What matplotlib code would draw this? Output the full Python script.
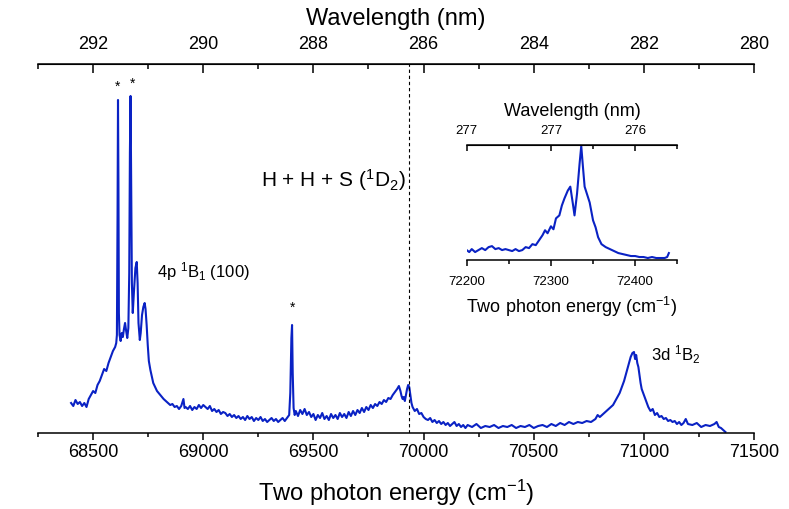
import numpy as np
import matplotlib
matplotlib.use("Agg")
import matplotlib.pyplot as plt
from matplotlib.ticker import MultipleLocator

plt.rcParams['font.family'] = ['Liberation Sans', 'DejaVu Sans']
plt.rcParams['mathtext.fontset'] = 'custom'
plt.rcParams['mathtext.rm'] = 'Liberation Sans'
plt.rcParams['mathtext.it'] = 'Liberation Sans:italic'

# main spectrum: two photon energy (cm-1) vs signal (arb. units)
energy = [68400, 68410, 68420, 68430, 68440, 68450, 68460, 68470, 68480, 68490,
          68500, 68510, 68520, 68530, 68540, 68550, 68560, 68570, 68580, 68590,
          68600, 68605, 68608, 68611, 68613, 68615, 68617, 68620, 68625, 68630,
          68635, 68640, 68645, 68650, 68655, 68660, 68664, 68667, 68670, 68673,
          68676, 68680, 68685, 68692, 68698, 68702, 68706, 68712, 68716, 68722,
          68728, 68734, 68738, 68743, 68748, 68753, 68760, 68773, 68790, 68805,
          68820, 68830, 68840, 68850, 68860, 68870, 68880, 68890, 68900, 68910,
          68915, 68920, 68930, 68940, 68950, 68960, 68970, 68980, 68990, 69000,
          69010, 69020, 69030, 69040, 69050, 69060, 69070, 69080, 69090, 69100,
          69110, 69120, 69130, 69140, 69150, 69160, 69170, 69180, 69190, 69200,
          69210, 69220, 69230, 69240, 69250, 69260, 69270, 69280, 69290, 69300,
          69310, 69320, 69330, 69340, 69350, 69360, 69370, 69380, 69390, 69395,
          69400, 69403, 69406, 69410, 69415, 69420, 69430, 69440, 69450, 69460,
          69470, 69480, 69490, 69500, 69510, 69520, 69530, 69540, 69550, 69560,
          69570, 69580, 69590, 69600, 69610, 69620, 69630, 69640, 69650, 69660,
          69670, 69680, 69690, 69700, 69710, 69720, 69730, 69740, 69750, 69760,
          69770, 69780, 69790, 69800, 69810, 69820, 69830, 69840, 69850, 69860,
          69870, 69880, 69888, 69895, 69900, 69905, 69910, 69915, 69920, 69925,
          69930, 69935, 69940, 69945, 69950, 69960, 69970, 69980, 69990, 70000,
          70010, 70020, 70030, 70040, 70050, 70060, 70070, 70080, 70090, 70100,
          70110, 70120, 70130, 70140, 70150, 70160, 70170, 70180, 70190, 70200,
          70220, 70240, 70260, 70280, 70300, 70320, 70340, 70360, 70380, 70400,
          70420, 70440, 70460, 70480, 70500, 70520, 70540, 70560, 70580, 70600,
          70620, 70640, 70660, 70680, 70700, 70720, 70740, 70760, 70780, 70790,
          70800, 70820, 70840, 70860, 70870, 70880, 70890, 70900, 70910, 70920,
          70930, 70940, 70948, 70955, 70960, 70965, 70970, 70975, 70980, 70985,
          70990, 71000, 71010, 71020, 71030, 71040, 71050, 71060, 71070, 71080,
          71090, 71100, 71110, 71120, 71130, 71140, 71150, 71160, 71170, 71180,
          71190, 71200, 71220, 71240, 71260, 71280, 71300, 71320, 71330, 71340,
          71350, 71360, 71370]
signal = [30, 27, 33, 29, 31, 27, 30, 26, 34, 38,
          42, 40, 48, 52, 58, 64, 62, 70, 76, 82,
          86, 90, 98, 220, 333, 250, 120, 98, 92, 100,
          96, 104, 110, 102, 95, 105, 160, 280, 337, 250,
          150, 120, 140, 165, 171, 150, 110, 93, 100, 118,
          126, 130, 124, 108, 88, 72, 63, 50, 42, 38,
          34, 32, 30, 28, 29, 26, 27, 24, 27, 34,
          25, 26, 24, 27, 23, 26, 24, 28, 25, 28,
          26, 24, 27, 22, 24, 21, 23, 19, 21, 20,
          17, 19, 16, 18, 15, 17, 14, 16, 13, 17,
          14, 16, 12, 15, 13, 16, 12, 14, 11, 13,
          15, 12, 14, 11, 13, 15, 12, 15, 18, 40,
          95, 108, 60, 25, 18, 22, 17, 23, 19, 24,
          18, 21, 16, 19, 13, 18, 15, 20, 14, 17,
          13, 19, 15, 18, 14, 20, 16, 19, 15, 21,
          17, 22, 18, 23, 20, 25, 21, 26, 23, 28,
          25, 29, 27, 31, 29, 33, 31, 35, 34, 38,
          41, 44, 47, 42, 37, 34, 36, 32, 38, 44,
          48, 46, 38, 30, 26, 22, 24, 19, 20, 16,
          14, 13, 15, 11, 13, 10, 12, 9, 11, 8,
          10, 7, 9, 11, 7, 9, 6, 8, 5, 8,
          6, 9, 5, 7, 6, 8, 5, 7, 6, 8,
          5, 7, 6, 8, 5, 7, 8, 6, 9, 7,
          10, 8, 11, 9, 11, 10, 12, 11, 14, 18,
          16, 20, 24, 28, 32, 36, 40, 46, 52, 60,
          68, 76, 80, 81, 74, 78, 70, 66, 58, 50,
          44, 38, 32, 26, 22, 24, 18, 20, 16, 17,
          14, 15, 12, 13, 11, 12, 9, 11, 8, 10,
          14, 9, 8, 10, 6, 8, 7, 9, 11, 6,
          5, 3, 1]

# inset spectrum
inset_energy = [72200, 72203, 72206, 72210, 72214, 72218, 72222, 72226, 72230, 72234,
                72238, 72242, 72246, 72250, 72254, 72258, 72262, 72266, 72270, 72274,
                72278, 72282, 72286, 72290, 72293, 72296, 72300, 72303, 72306, 72310,
                72313, 72316, 72320, 72323, 72326, 72328, 72331, 72334, 72336, 72338,
                72340, 72343, 72346, 72350, 72353, 72356, 72360, 72365, 72370, 72375,
                72380, 72385, 72390, 72395, 72400, 72405, 72410, 72415, 72420, 72425,
                72430, 72435, 72438, 72440]
inset_signal = [10, 8, 11, 8, 10, 12, 10, 13, 14, 11,
                12, 10, 11, 10, 9, 11, 9, 10, 13, 12,
                16, 15, 20, 25, 30, 27, 34, 31, 42, 45,
                55, 62, 70, 74, 57, 45, 67, 97, 115, 94,
                74, 66, 58, 40, 33, 23, 16, 13, 11, 9,
                7, 6, 5, 4, 4, 3, 3, 2, 3, 2,
                2, 2, 3, 7]

ENERGY_ARB = 69934  # dashed line position
wl_ticks = [292, 290, 288, 286, 284, 282, 280]
inset_top_labels = ['277', '277', '276']

blue = '#0a22c4'

fig = plt.figure(figsize=(7.89, 5.09), dpi=100)
ax = fig.add_axes([0.0482, 0.1493, 0.9075, 0.7250])
ax.plot(energy, signal, color=blue, lw=1.5)
ax.axvline(ENERGY_ARB, color='k', ls=(0, (3, 2.5)), lw=0.8)
ax.set_xlim(68250, 71500)
ax.set_ylim(0, 369)
ax.xaxis.set_major_locator(MultipleLocator(500))
ax.xaxis.set_minor_locator(MultipleLocator(250))
ax.tick_params(axis='x', which='major', direction='out', length=5, width=1.1, labelsize=13, pad=3)
ax.tick_params(axis='x', which='minor', direction='out', length=3, width=1.1)
ax.set_yticks([])
for s in ['left', 'right']:
    ax.spines[s].set_visible(False)
for s in ['top', 'bottom']:
    ax.spines[s].set_linewidth(1.1)
ax.set_xlabel(r'Two photon energy (cm$^{\mathregular{-1}}$)', fontsize=17, labelpad=12)

ax2 = ax.twiny()
ax2.set_xlim(293, 280)
ax2.set_xticks(wl_ticks)
ax2.xaxis.set_minor_locator(MultipleLocator(1))
ax2.tick_params(axis='x', which='major', direction='in', length=6.5, width=1.1, labelsize=13, pad=8)
ax2.tick_params(axis='x', which='minor', direction='in', length=3.5, width=1.1)
for s in ['left', 'right', 'bottom']:
    ax2.spines[s].set_visible(False)
ax2.set_xlabel('Wavelength (nm)', fontsize=17, labelpad=8)

# annotations
ax.text(68613, 346, '*', ha='center', va='center', fontsize=10)
ax.text(68677, 349, '*', ha='center', va='center', fontsize=10)
ax.text(69403, 125, '*', ha='center', va='center', fontsize=10)
ax.text(68790, 161, r'4p $\mathregular{^1B_1}$ (100)', ha='left', va='center', fontsize=12)
ax.text(69262, 253, r'H + H + S ($\mathregular{^1D_2}$)', ha='left', va='center', fontsize=15)
ax.text(71032, 78, r'3d $\mathregular{^1B_2}$', ha='left', va='center', fontsize=12)

# inset
ins = fig.add_axes([0.5915, 0.4892, 0.2669, 0.2259])
ins.plot(inset_energy, inset_signal, color=blue, lw=1.5)
ins.set_xlim(72200, 72450)
ins.set_ylim(0, 116)
ins.set_yticks([])
ins.set_xticks([72200, 72300, 72400])
ins.xaxis.set_minor_locator(MultipleLocator(50))
ins.tick_params(axis='x', which='major', direction='out', length=4.5, width=1.1, labelsize=9.5, pad=7)
ins.tick_params(axis='x', which='minor', direction='out', length=3, width=1.1)
for s in ['left', 'right']:
    ins.spines[s].set_visible(False)
for s in ['top', 'bottom']:
    ins.spines[s].set_linewidth(1.1)
ins.set_xlabel(r'Two photon energy (cm$^{\mathregular{-1}}$)', fontsize=13, labelpad=5)

ins2 = ins.twiny()
ins2.set_xlim(72200, 72450)
ins2.set_xticks([72200, 72300, 72400])
ins2.set_xticklabels(inset_top_labels)
ins2.xaxis.set_minor_locator(MultipleLocator(50))
ins2.tick_params(axis='x', which='major', direction='in', length=4.5, width=1.1, labelsize=9.5, pad=6)
ins2.tick_params(axis='x', which='minor', direction='in', length=3, width=1.1)
for s in ['left', 'right', 'bottom']:
    ins2.spines[s].set_visible(False)
ins2.set_xlabel('Wavelength (nm)', fontsize=13, labelpad=6)

fig.savefig('out.png', dpi=100)
